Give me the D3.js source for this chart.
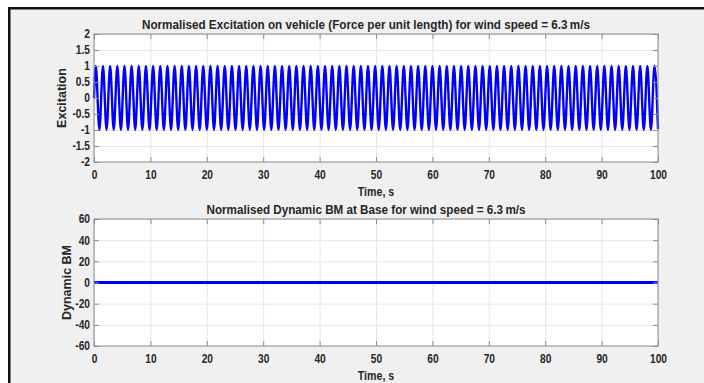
<!DOCTYPE html>
<html>
<head>
<meta charset="utf-8">
<script src="https://cdn.jsdelivr.net/npm/d3@7"></script>
<style>
  html, body { margin: 0; padding: 0; background: #fff; }
  svg { display: block; font-family: "Liberation Sans", Arial, sans-serif; }
  .tick text { font-size: 12px; font-weight: bold; fill: #262626; }
  .lbl { font-size: 12.5px; font-weight: bold; fill: #262626; }
</style>
</head>
<body>
<svg id="fig" width="704" height="383"></svg>
<script>
// tick labels
const timeTicks = [0, 10, 20, 30, 40, 50, 60, 70, 80, 90, 100];
const excTicks = [-2, -1.5, -1, -0.5, 0, 0.5, 1, 1.5, 2];
const bmTicks = [-60, -40, -20, 0, 20, 40, 60];

// excitation: successive peaks / troughs
const excFirstPeak = 0.32;   // s
const excHalfPeriod = 0.635; // s, from peak spacing
const excStart = 0;
const excEnd = -0.97;        // value at t = 100
const excExtremes = [
  1, -1, 1, -1, 1, -1, 1, -1, 1, -1, 1, -1, 1, -1, 1, -1, 1, -1, 1, -1,
  1, -1, 1, -1, 1, -1, 1, -1, 1, -1, 1, -1, 1, -1, 1, -1, 1, -1, 1, -1,
  1, -1, 1, -1, 1, -1, 1, -1, 1, -1, 1, -1, 1, -1, 1, -1, 1, -1, 1, -1,
  1, -1, 1, -1, 1, -1, 1, -1, 1, -1, 1, -1, 1, -1, 1, -1, 1, -1, 1, -1,
  1, -1, 1, -1, 1, -1, 1, -1, 1, -1, 1, -1, 1, -1, 1, -1, 1, -1, 1, -1,
  1, -1, 1, -1, 1, -1, 1, -1, 1, -1, 1, -1, 1, -1, 1, -1, 1, -1, 1, -1,
  1, -1, 1, -1, 1, -1, 1, -1, 1, -1, 1, -1, 1, -1, 1, -1, 1, -1, 1, -1,
  1, -1, 1, -1, 1, -1, 1, -1, 1, -1, 1, -1, 1, -1, 1, -1, 1
];

// dynamic BM: flat at zero
const bmTime = [0, 100];
const bmValues = [0, 0];

const titles = [
  "Normalised Excitation on vehicle (Force per unit length) for wind speed = 6.3\u2009m/s",
  "Normalised Dynamic BM at Base for wind speed = 6.3\u2009m/s"
];

// Фон і рамка
const svg = d3.select("#fig");
svg.append("rect").attr("x", 10).attr("y", 9).attr("width", 694).attr("height", 374).attr("fill", "#f0f0f0");
svg.append("rect").attr("x", 8).attr("y", 7).attr("width", 696).attr("height", 2.5).attr("fill", "#111");
svg.append("rect").attr("x", 8).attr("y", 7).attr("width", 2.5).attr("height", 376).attr("fill", "#111");

const left = 94, right = 658;
const x = d3.scaleLinear().domain([0, 100]).range([left, right]);
const fmt = d => String(d);

// вужчий шрифт, як на скані
function squeeze(sel, k) {
  sel.each(function () {
    this.setAttribute("textLength", this.getComputedTextLength() * k);
    this.setAttribute("lengthAdjust", "spacingAndGlyphs");
  });
}

function panel(top, bottom, yDomain, yTicks, yLabel, labelX, title, titleLen, series, strokeW) {
  const y = d3.scaleLinear().domain(yDomain).range([bottom, top]);
  const g = svg.append("g");
  const h = bottom - top, w = right - left;

  g.append("rect").attr("x", left).attr("y", top).attr("width", w).attr("height", h).attr("fill", "#fff");

  // сітка
  g.append("g").attr("transform", `translate(0,${bottom})`)
    .call(d3.axisBottom(x).tickValues(timeTicks).tickSize(-h).tickFormat(""))
    .call(a => a.select(".domain").remove())
    .selectAll("line").attr("stroke", "#e6e6e6");
  g.append("g").attr("transform", `translate(${left},0)`)
    .call(d3.axisLeft(y).tickValues(yTicks).tickSize(-w).tickFormat(""))
    .call(a => a.select(".domain").remove())
    .selectAll("line").attr("stroke", "#e6e6e6");

  // лінія
  const line = d3.line().x(d => x(d[0])).y(d => y(d[1])).curve(d3.curveMonotoneX);
  g.append("path").datum(series).attr("d", line)
    .attr("fill", "none").attr("stroke", "#0000ff").attr("stroke-width", strokeW)
    .attr("stroke-linejoin", "round");

  // осі
  const ax = [
    g.append("g").attr("transform", `translate(0,${bottom})`)
      .call(d3.axisBottom(x).tickValues(timeTicks).tickFormat(fmt).tickSizeInner(-5).tickSizeOuter(0).tickPadding(8)),
    g.append("g").attr("transform", `translate(0,${top})`)
      .call(d3.axisTop(x).tickValues(timeTicks).tickSizeInner(-5).tickSizeOuter(0).tickFormat("")),
    g.append("g").attr("transform", `translate(${left},0)`)
      .call(d3.axisLeft(y).tickValues(yTicks).tickFormat(fmt).tickSizeInner(-5).tickSizeOuter(0).tickPadding(4)),
    g.append("g").attr("transform", `translate(${right},0)`)
      .call(d3.axisRight(y).tickValues(yTicks).tickSizeInner(-5).tickSizeOuter(0).tickFormat(""))
  ];
  ax.forEach(a => {
    a.select(".domain").remove();
    a.selectAll("line").attr("stroke", "#8c8c8c");
    a.attr("font-family", null).attr("font-size", null);
  });
  squeeze(ax[0].selectAll("text"), 0.85);
  squeeze(ax[2].selectAll("text"), 0.85);

  g.append("rect").attr("x", left).attr("y", top).attr("width", w).attr("height", h)
    .attr("fill", "none").attr("stroke", "#8c8c8c").attr("stroke-width", 1);

  g.append("text").attr("class", "lbl").attr("x", 366).attr("y", top - 5)
    .style("font-size", "13px")
    .attr("text-anchor", "middle").attr("textLength", titleLen).attr("lengthAdjust", "spacingAndGlyphs")
    .text(title);
  g.append("text").attr("class", "lbl").attr("x", 376).attr("y", bottom + 34)
    .attr("text-anchor", "middle").text("Time, s")
    .call(s => squeeze(s, 0.85));
  g.append("text").attr("class", "lbl")
    .attr("transform", `translate(${labelX},${(top + bottom) / 2}) rotate(-90)`)
    .attr("text-anchor", "middle").attr("dy", "0.35em").text(yLabel);
}

const excSeries = [[0, excStart]]
  .concat(excExtremes.map((v, i) => [excFirstPeak + i * excHalfPeriod, v]))
  .concat([[100, excEnd]]);
const bmSeries = bmTime.map((t, i) => [t, bmValues[i]]);

panel(34, 162, [-2, 2], excTicks, "Excitation", 62, titles[0], 448, excSeries, 2.4);
panel(219, 346, [-60, 60], bmTicks, "Dynamic BM", 67, titles[1], 319, bmSeries, 2.8);
</script>
</body>
</html>
